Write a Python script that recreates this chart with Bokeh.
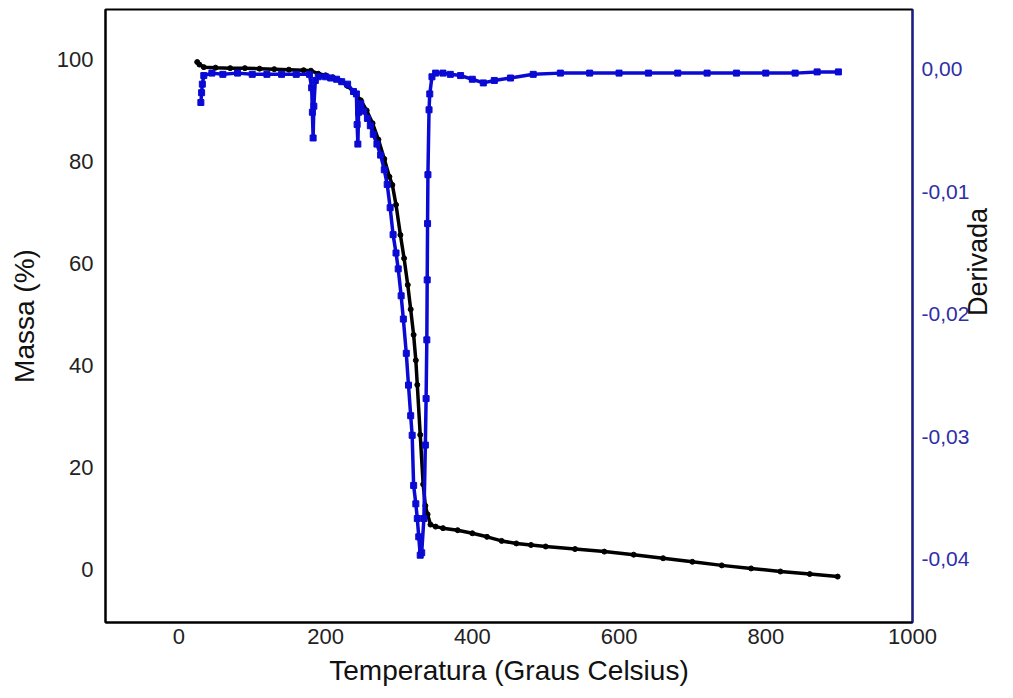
import math
from bokeh.plotting import figure
from bokeh.models import Range1d, LinearAxis, FixedTicker
from bokeh.embed import file_html
from bokeh.resources import INLINE

# ---- data ----
mass_temp = [25, 28, 34, 50, 70, 90, 110, 130, 150, 170,
             180, 190, 200, 210, 220, 230, 240, 248, 256, 264,
             272, 280, 287, 291, 296, 302, 307, 312, 316, 320,
             323, 325, 329, 333, 336, 339, 343, 350, 360, 380,
             400, 420, 440, 460, 480, 500, 540, 580, 620, 660,
             700, 740, 780, 820, 860, 898]
mass_pct = [99.5, 99.0, 98.5, 98.4, 98.3, 98.3, 98.2, 98.1, 98.0, 97.9,
            97.8, 97.2, 96.9, 96.5, 95.8, 94.8, 93.4, 92.0, 90.0, 87.5,
            84.3, 80.5, 77.0, 75.4, 71.5, 65.6, 61.0, 55.8, 51.0, 46.0,
            41.0, 36.2, 26.4, 16.7, 12.5, 10.8, 8.8, 8.4, 8.1, 7.7,
            7.1, 6.4, 5.6, 5.1, 4.8, 4.5, 4.0, 3.5, 2.9, 2.2,
            1.5, 0.8, 0.2, -0.4, -0.9, -1.4]

deriv_temp = [30, 31, 32, 34, 45, 60, 80, 100, 120, 140,
              160, 178, 181, 182, 183, 184, 186, 190, 200, 207,
              215, 222, 230, 238, 242, 243, 244, 245, 248, 252,
              257, 261, 265, 270, 275, 280, 284, 288, 292, 296,
              299, 303, 306, 310, 313, 316, 318, 320, 323, 325,
              327, 329, 331, 334, 336, 337, 338, 338.5, 339, 339.5,
              341, 342, 345, 350, 360, 370, 384, 400, 415, 430,
              452, 483, 520, 560, 600, 640, 680, 720, 760, 800,
              840, 870, 899]
deriv_val = [-0.0027, -0.0019, -0.0012, -0.0005, -0.0003, -0.0004, -0.0003, -0.0004, -0.0004, -0.0004,
             -0.0004, -0.0004, -0.0015, -0.0035, -0.0056, -0.0030, -0.0009, -0.0006, -0.0006, -0.0007,
             -0.0008, -0.0010, -0.0012, -0.0018, -0.0020, -0.0045, -0.0061, -0.0035, -0.0028, -0.0034,
             -0.0040, -0.0046, -0.0053, -0.0061, -0.0070, -0.0082, -0.0094, -0.0113, -0.0135, -0.0150,
             -0.0163, -0.0185, -0.0204, -0.0232, -0.0258, -0.0283, -0.0299, -0.0340, -0.0355, -0.0367,
             -0.0382, -0.0397, -0.0395, -0.0367, -0.0307, -0.0269, -0.0221, -0.0172, -0.0126, -0.0086,
             -0.0033, -0.0020, -0.0006, -0.0003, -0.0003, -0.0004, -0.0005, -0.0008, -0.0011, -0.0009,
             -0.0007, -0.0004, -0.0003, -0.0003, -0.0003, -0.0003, -0.0003, -0.0003, -0.0003, -0.0003,
             -0.0003, -0.0002, -0.0002]

x_ticks = [0, 200, 400, 600, 800, 1000]
mass_ticks = [0, 20, 40, 60, 80, 100]
deriv_ticks = [0.0, -0.01, -0.02, -0.03, -0.04]
deriv_tick_labels = ["0,00", "-0,01", "-0,02", "-0,03", "-0,04"]

FONT = "Liberation Sans"
BLUE = "#0a0ad4"
NAVY = "#1a1a9a"
TXT = "#222222"

p = figure(width=1013, height=698, output_backend="svg", toolbar_location=None,
           x_range=Range1d(-100, 1000), y_range=Range1d(-10.4, 109.8),
           min_border_left=105, min_border_right=101, min_border_top=9, min_border_bottom=76,
           background_fill_color="white", border_fill_color="white")
p.extra_y_ranges = {"deriv": Range1d(-0.0452, 0.0049)}
p.grid.visible = False
p.outline_line_color = "black"
p.outline_line_width = 2

# mass curve
p.line(mass_temp, mass_pct, line_color="black", line_width=3.5)
p.scatter(mass_temp, mass_pct, marker="circle", size=5, fill_color="black", line_color="black")

# derivative curve
p.line(deriv_temp, deriv_val, line_color=BLUE, line_width=3.5, y_range_name="deriv")
p.scatter(deriv_temp, deriv_val, marker="square", size=6, fill_color=BLUE, line_color=BLUE,
          y_range_name="deriv")

def style(ax, color, label_color):
    ax.major_tick_out = 0
    ax.major_tick_in = 0
    ax.minor_tick_out = 0
    ax.minor_tick_in = 0
    ax.axis_line_color = color
    ax.axis_line_width = 2
    ax.major_label_text_font = FONT
    ax.major_label_text_font_size = "22px"
    ax.major_label_text_color = label_color
    ax.axis_label_text_font = FONT
    ax.axis_label_text_font_style = "normal"
    ax.axis_label_text_font_size = "28px"
    ax.axis_label_text_color = "#111111"

xa = p.xaxis[0]
xa.ticker = FixedTicker(ticks=x_ticks)
style(xa, "black", TXT)
xa.axis_label = "Temperatura (Graus Celsius)"
xa.major_label_standoff = 6
xa.axis_label_standoff = 8

ya = p.yaxis[0]
ya.ticker = FixedTicker(ticks=mass_ticks)
style(ya, "black", TXT)
ya.axis_label = "Massa (%)"
ya.major_label_standoff = 12
ya.axis_label_standoff = 14

ra = LinearAxis(y_range_name="deriv", ticker=FixedTicker(ticks=deriv_ticks),
                major_label_overrides={t: s for t, s in zip(deriv_ticks, deriv_tick_labels)})
style(ra, NAVY, "#2e2ea8")
ra.major_label_text_font_size = "21px"
ra.major_label_standoff = 9
ra.axis_label = "Derivada"
ra.axis_label_text_font_size = "27px"
ra.axis_label_standoff = 6
ra.axis_label_orientation = math.pi / 2
p.add_layout(ra, "right")

open("out.html", "w").write(file_html(p, INLINE))
